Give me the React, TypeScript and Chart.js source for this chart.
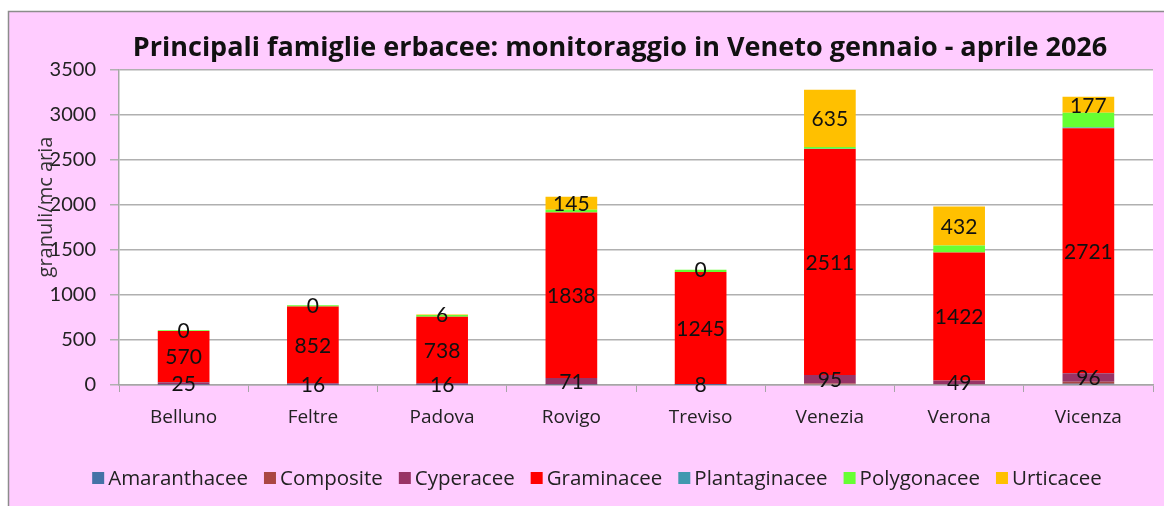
import React, { useEffect, useRef } from "react";
import { Chart, registerables } from "chart.js";

Chart.register(...registerables);

const categories = ["Belluno", "Feltre", "Padova", "Rovigo", "Treviso", "Venezia", "Verona", "Vicenza"];
const amaranthacee = [3, 2, 2, 4, 1, 8, 0, 15];
const composite = [2, 1, 1, 3, 1, 8, 0, 20];
const cyperacee = [25, 16, 16, 71, 8, 95, 49, 96];
const graminacee = [570, 852, 738, 1838, 1245, 2511, 1422, 2721];
const plantaginacee = [1, 1, 1, 2, 1, 3, 1, 8];
const polygonacee = [8, 15, 20, 30, 25, 20, 78, 165];
const urticacee = [0, 0, 6, 145, 0, 635, 432, 177];

const seriesNames = ["Amaranthacee", "Composite", "Cyperacee", "Graminacee", "Plantaginacee", "Polygonacee", "Urticacee"];
const seriesValues = [amaranthacee, composite, cyperacee, graminacee, plantaginacee, polygonacee, urticacee];
const seriesColors = ["#4572A7", "#AA4643", "#993366", "#FF0000", "#4198AF", "#66FF33", "#FFC000"];
const labeledSeries = ["Cyperacee", "Graminacee", "Urticacee"];

const titleText = "Principali famiglie erbacee: monitoraggio in Veneto gennaio - aprile 2026";
const yTitleText = "granuli/mc aria";
const yMin = 0;
const yMax = 3500;
const yStep = 500;

const LATO = "Lato, 'Noto Sans', sans-serif";
const OPEN = "'Open Sans', 'Noto Sans', sans-serif";
const W = 1164;
const H = 506;

const decorPlugin = {
  id: "decor",
  beforeDraw(chart: any) {
    const { ctx, chartArea } = chart;
    ctx.save();
    ctx.fillStyle = "#ffffff";
    ctx.fillRect(0, 0, W, H);
    ctx.fillStyle = "#FFCCFF";
    ctx.fillRect(8, 11, W - 8, H - 11);
    ctx.strokeStyle = "#8c8c8c";
    ctx.lineWidth = 1.5;
    ctx.strokeRect(8.5, 11.5, W + 20, H + 20);
    ctx.fillStyle = "#ffffff";
    ctx.fillRect(chartArea.left, chartArea.top, chartArea.right - chartArea.left, chartArea.bottom - chartArea.top);
    ctx.restore();
  },
  afterDatasetsDraw(chart: any) {
    const { ctx } = chart;
    ctx.save();
    ctx.font = `21px ${LATO}`;
    ctx.fillStyle = "#111111";
    ctx.textAlign = "center";
    ctx.textBaseline = "middle";
    chart.data.datasets.forEach((ds: any, i: number) => {
      if (!labeledSeries.includes(ds.label)) return;
      const meta = chart.getDatasetMeta(i);
      meta.data.forEach((el: any, j: number) => {
        const c = el.getCenterPoint();
        ctx.fillText(String(ds.data[j]), c.x, c.y + 1);
      });
    });
    ctx.restore();
  },
  afterDraw(chart: any) {
    const { ctx } = chart;
    ctx.save();
    // title
    ctx.font = `bold 27px ${OPEN}`;
    ctx.fillStyle = "#111111";
    ctx.textAlign = "center";
    ctx.textBaseline = "middle";
    ctx.fillText(titleText, 620, 48);
    // y title
    ctx.save();
    ctx.translate(46, 207);
    ctx.rotate(-Math.PI / 2);
    ctx.font = `20px ${OPEN}`;
    ctx.fillStyle = "#333333";
    ctx.fillText(yTitleText, 0, 0);
    ctx.restore();
    // legend
    ctx.font = `20.5px ${OPEN}`;
    ctx.textAlign = "left";
    const box = 12;
    const gapBox = 4;
    const gapItem = 16;
    const items = chart.data.datasets.map((ds: any) => ({
      label: ds.label,
      color: ds.backgroundColor,
      w: box + gapBox + ctx.measureText(ds.label).width,
    }));
    const total = items.reduce((a: number, it: any) => a + it.w, 0) + gapItem * (items.length - 1);
    let x = 597 - total / 2;
    const y = 478;
    items.forEach((it: any) => {
      ctx.fillStyle = it.color;
      ctx.fillRect(x, y - box / 2, box, box);
      ctx.fillStyle = "#222222";
      ctx.fillText(it.label, x + box + gapBox, y + 1);
      x += it.w + gapItem;
    });
    ctx.restore();
  },
};

export default function App() {
  const ref = useRef<HTMLCanvasElement | null>(null);
  useEffect(() => {
    if (!ref.current) return;
    const chart = new Chart(ref.current, {
      type: "bar",
      data: {
        labels: categories,
        datasets: seriesNames.map((name, i) => ({
          label: name,
          data: seriesValues[i],
          backgroundColor: seriesColors[i],
          borderWidth: 0,
          barPercentage: 0.4,
          categoryPercentage: 1,
        })),
      },
      options: {
        animation: false,
        responsive: false,
        devicePixelRatio: 1,
        layout: { padding: { left: 9, top: 70, right: 11, bottom: 61 } },
        plugins: {
          legend: { display: false },
          title: { display: false },
          tooltip: { enabled: false },
        },
        scales: {
          x: {
            stacked: true,
            afterFit: (s: any) => {
              s.height = 60;
            },
            grid: {
              display: true,
              drawOnChartArea: false,
              offset: true,
              tickLength: 7,
              color: "#a6a6a6",
            },
            border: { color: "#a6a6a6", width: 1.5 },
            ticks: {
              font: { family: OPEN, size: 19 },
              color: "#222222",
              padding: 14,
              maxRotation: 0,
            },
          },
          y: {
            stacked: true,
            min: yMin,
            max: yMax,
            afterFit: (s: any) => {
              s.width = 110;
            },
            grid: {
              color: "#b0b0b0",
              lineWidth: 1.5,
              tickLength: 9,
            },
            border: { color: "#a6a6a6", width: 1.5 },
            ticks: {
              stepSize: yStep,
              font: { family: LATO, size: 20 },
              color: "#222222",
              padding: 14,
              callback: (v: any) => String(v),
            },
          },
        },
      },
      plugins: [decorPlugin],
    });
    return () => chart.destroy();
  }, []);
  return (
    <div style={{ position: "fixed", left: 0, top: 0, width: W, height: H }}>
      <canvas ref={ref} width={W} height={H} style={{ width: W, height: H, display: "block" }} />
    </div>
  );
}
